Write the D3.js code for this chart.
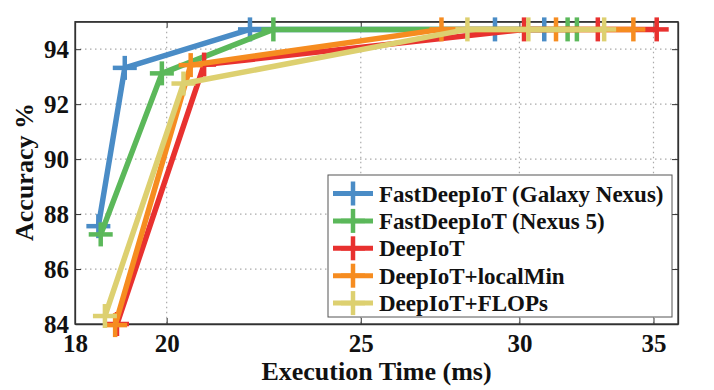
<!DOCTYPE html>
<html>
<head>
<meta charset="utf-8">
<script src="https://cdn.jsdelivr.net/npm/d3@7"></script>
<style>
  body { margin: 0; background: white; }
</style>
</head>
<body>
<script>
var w = 714;
var h = 390;
var serif = "'Liberation Serif', 'Times New Roman', Times, 'DejaVu Serif', serif";

// series names and colours
var seriesNames = ["FastDeepIoT (Galaxy Nexus)", "FastDeepIoT (Nexus 5)", "DeepIoT", "DeepIoT+localMin", "DeepIoT+FLOPs"];
var colors = ["#4a8cc6", "#5bb85a", "#e8312f", "#f68c20", "#ddd070"];

// execution time (ms) and accuracy (%) per series
var timeGalaxy = [18.49, 19.06, 22.01, 29.17, 30.87];
var accGalaxy  = [87.56, 93.32, 94.72, 94.72, 94.72];
var timeNexus5 = [18.54, 19.89, 22.61, 31.71, 32.05];
var accNexus5  = [87.26, 93.12, 94.72, 94.72, 94.72];
var timeDeep   = [18.89, 20.88, 30.16, 32.83, 35.13];
var accDeep    = [84.00, 93.44, 94.72, 94.72, 94.72];
var timeLocal  = [18.85, 20.56, 27.43, 31.29, 34.20];
var accLocal   = [83.96, 93.42, 94.72, 94.72, 94.72];
var timeFlops  = [18.63, 20.39, 28.26, 30.31, 33.07];
var accFlops   = [84.29, 92.75, 94.72, 94.72, 94.72];

var xTicks = [18, 20, 25, 30, 35];
var yTicks = [84, 86, 88, 90, 92, 94];

var times = [timeGalaxy, timeNexus5, timeDeep, timeLocal, timeFlops];
var accs = [accGalaxy, accNexus5, accDeep, accLocal, accFlops];

var mLeft = 75, mRight = 678, mTop = 21.7, mBottom = 324;

var svg = d3.select("body").append("svg")
  .attr("width", w)
  .attr("height", h);

var x = d3.scaleLog().domain([18, 36]).range([mLeft, mRight]);
var y = d3.scaleLinear().domain([84, 95]).range([mBottom, mTop]);

// dotted grid
svg.append("g").selectAll("line")
  .data(xTicks.slice(1))
  .join("line")
  .attr("x1", d => x(d)).attr("x2", d => x(d))
  .attr("y1", mTop).attr("y2", mBottom)
  .attr("stroke", "#aaa").attr("stroke-width", 1.2)
  .attr("stroke-dasharray", "1.5,3.5");
svg.append("g").selectAll("line")
  .data(yTicks.slice(1))
  .join("line")
  .attr("x1", mLeft).attr("x2", mRight)
  .attr("y1", d => y(d)).attr("y2", d => y(d))
  .attr("stroke", "#aaa").attr("stroke-width", 1.2)
  .attr("stroke-dasharray", "1.5,3.5");

// axes (ticks pointing inward like matlab)
var xAxis = svg.append("g")
  .attr("transform", "translate(0," + mBottom + ")")
  .call(d3.axisBottom(x).tickValues(xTicks).tickFormat(d3.format("d")).tickSizeInner(-6).tickSizeOuter(0).tickPadding(10));
var yAxis = svg.append("g")
  .attr("transform", "translate(" + mLeft + ",0)")
  .call(d3.axisLeft(y).tickValues(yTicks).tickSizeInner(-6).tickSizeOuter(0).tickPadding(6));
svg.append("g")
  .attr("transform", "translate(0," + mTop + ")")
  .call(d3.axisTop(x).tickValues(xTicks).tickFormat("").tickSizeInner(-6).tickSizeOuter(0));
svg.append("g")
  .attr("transform", "translate(" + mRight + ",0)")
  .call(d3.axisRight(y).tickValues(yTicks).tickFormat("").tickSizeInner(-6).tickSizeOuter(0));

svg.selectAll(".domain").attr("stroke", "#333").attr("stroke-width", 1.3);
svg.selectAll(".tick line").attr("stroke", "#333");
svg.selectAll(".tick text")
  .attr("fill", "#111")
  .style("font-family", serif)
  .style("font-weight", "bold")
  .style("font-size", "25px");

// box
svg.append("rect")
  .attr("x", mLeft).attr("y", mTop)
  .attr("width", mRight - mLeft).attr("height", mBottom - mTop)
  .attr("fill", "none").attr("stroke", "#333").attr("stroke-width", 1.3);

// lines and plus markers
var line = d3.line()
  .x(d => x(d[0]))
  .y(d => y(d[1]));

var arm = 12;
function plus(g, cx, cy, col) {
  g.append("line").attr("x1", cx - arm).attr("x2", cx + arm).attr("y1", cy).attr("y2", cy)
    .attr("stroke", col).attr("stroke-width", 4.5);
  g.append("line").attr("x1", cx).attr("x2", cx).attr("y1", cy - arm).attr("y2", cy + arm)
    .attr("stroke", col).attr("stroke-width", 4.5);
}

for (var s = 0; s < seriesNames.length; s++) {
  var pts = d3.zip(times[s], accs[s]);
  var g = svg.append("g");
  g.append("path")
    .datum(pts)
    .attr("d", line)
    .attr("fill", "none")
    .attr("stroke", colors[s])
    .attr("stroke-width", 5.5)
    .attr("stroke-linejoin", "round");
  pts.forEach(function(p) { plus(g, x(p[0]), y(p[1]), colors[s]); });
}

// legend
var lg = svg.append("g");
lg.append("rect")
  .attr("x", 328).attr("y", 175).attr("width", 344).attr("height", 142)
  .attr("fill", "white").attr("stroke", "#555").attr("stroke-width", 1);
seriesNames.forEach(function(name, i) {
  var cy = 193.5 + i * 27.4;
  lg.append("line").attr("x1", 333).attr("x2", 373).attr("y1", cy).attr("y2", cy)
    .attr("stroke", colors[i]).attr("stroke-width", 5);
  plus(lg, 353, cy, colors[i]);
  lg.append("text").attr("x", 379).attr("y", cy + 8)
    .attr("fill", "#111")
    .style("font-family", serif).style("font-weight", "bold")
    .style("font-size", "23px").text(name);
});

// axis titles
svg.append("text")
  .attr("x", (mLeft + mRight) / 2).attr("y", 380)
  .attr("text-anchor", "middle")
  .attr("fill", "#111")
  .style("font-family", serif).style("font-weight", "bold")
  .style("font-size", "26px")
  .text("Execution Time (ms)");
svg.append("text")
  .attr("transform", "translate(33,172) rotate(-90)")
  .attr("text-anchor", "middle")
  .attr("fill", "#111")
  .style("font-family", serif).style("font-weight", "bold")
  .style("font-size", "26px")
  .text("Accuracy %");
</script>
</body>
</html>
